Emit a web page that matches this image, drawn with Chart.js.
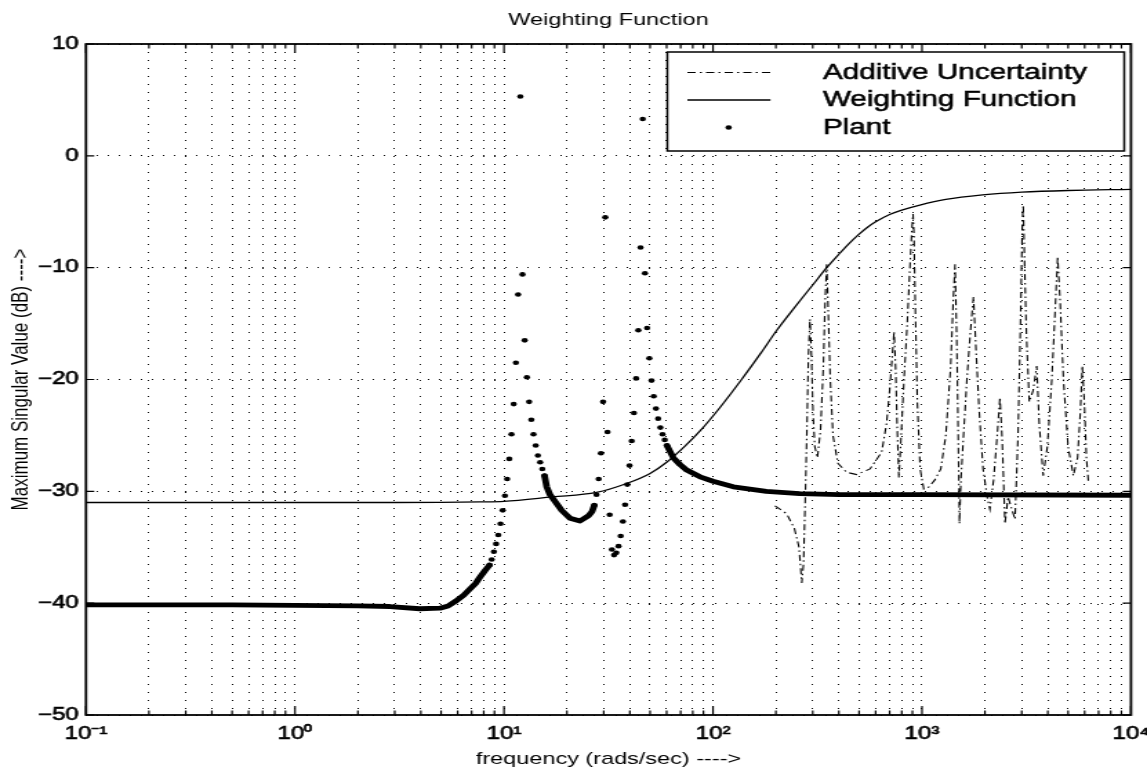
<!DOCTYPE html>
<html><head><meta charset="utf-8">
<script src="https://cdn.jsdelivr.net/npm/chart.js@4.4.1/dist/chart.umd.min.js"></script>
<style>
html,body{margin:0;padding:0;background:#fff;overflow:hidden;width:1147px;height:771px;}
#wrap{position:absolute;left:0;top:0;width:831px;height:771px;transform:scaleX(1.38026);transform-origin:0 0;}
</style></head><body>
<div id="wrap"><canvas id="chart"></canvas></div>
<script>
const titleText = 'Weighting Function';
const xTitle = 'frequency (rads/sec) ---->';
const yTitle = 'Maximum Singular Value (dB) ---->';
const legendLabels = ['Additive Uncertainty', 'Weighting Function', 'Plant'];

const xMajorTicks = [0.1, 1, 10, 100, 1000, 10000];
const xMajorLabels = ['10⁻¹', '10⁰', '10¹', '10²', '10³', '10⁴'];
const yTicks = [10, 0, -10, -20, -30, -40, -50];
const yTickLabels = ['10', '0', '−10', '−20', '−30', '−40', '−50'];

const weightFreq = [0.1, 0.3, 1, 3, 7.7, 10, 17, 27.7, 38.6, 50, 60, 73, 86.7, 108, 137, 170, 202, 240, 270, 300, 350, 400, 450, 500, 543, 600, 700, 800, 977, 1300, 1950, 3000, 5000, 10000];
const weightDb   = [-31.0, -31.0, -31.0, -31.0, -30.95, -30.9, -30.5, -30.1, -29.3, -28.4, -27.4, -26.0, -24.6, -22.5, -20.0, -17.6, -15.6, -13.8, -12.6, -11.55, -10.0, -8.8, -7.8, -7.0, -6.45, -5.9, -5.25, -4.85, -4.4, -3.9, -3.5, -3.25, -3.1, -3.0];

const plantFreq = [8.522, 8.731, 8.945, 9.165, 9.390, 9.622, 9.858, 10.10, 10.35, 10.60, 10.86, 11.13, 11.40, 11.68, 11.97,
  12.26, 12.56, 12.87, 13.19, 13.51, 13.84, 14.18, 14.53, 14.89, 15.25, 15.63,
  27.04, 27.70, 28.38, 29.08, 29.79, 30.52, 31.27, 32.04, 32.83, 33.63, 34.46, 35.31, 36.17, 37.06, 37.97, 38.90, 39.86, 40.84, 41.84, 42.87, 43.92, 45.00, 46.11,
  47.24, 48.40, 49.59, 50.80, 52.05, 53.33, 54.64, 55.98, 57.36, 58.77, 60.21];
const plantDb = [-36.6, -36.1, -35.4, -34.7, -33.9, -32.9, -31.7, -30.4, -28.9, -27.1, -24.9, -22.2, -18.5, -12.4, 5.3,
  -10.6, -16.5, -19.8, -22.0, -23.6, -24.9, -25.9, -26.8, -27.4, -28.0, -28.6,
  -31.25, -30.3, -28.9, -26.6, -22.0, -5.5, -24.7, -32.1, -35.2, -35.7, -35.5, -34.9, -34.0, -32.7, -31.2, -29.4, -27.7, -25.5, -23.0, -19.9, -15.6, -8.2, 3.3,
  -10.5, -15.4, -18.1, -20.1, -21.5, -22.6, -23.5, -24.3, -24.9, -25.4, -25.9];

const plantBandFreq = [0.1, 0.5, 1, 2, 2.85, 3.95, 4.94, 5.4, 5.9, 6.4, 6.86, 7.3, 7.66, 8.1, 8.522, null,
  15.63, 16.01, 16.6, 17.54, 18.88, 20.7, 23.1, 25.31, 26.4, 27.04, null,
  60.21, 64.57, 69.5, 74.83, 86.66, 100, 125.1, 180, 260, 400, 1000, 10000];
const plantBandDb = [-40.15, -40.15, -40.2, -40.25, -40.3, -40.5, -40.45, -40.25, -39.8, -39.3, -38.75, -38.25, -37.7, -37.1, -36.6, null,
  -28.6, -29.6, -30.3, -30.9, -31.7, -32.4, -32.65, -32.2, -31.8, -31.25, null,
  -25.9, -27.0, -27.6, -28.1, -28.7, -29.1, -29.6, -30.0, -30.2, -30.3, -30.3, -30.35];

const uncFreq = [198, 225, 245, 258, 266, 271, 276, 281, 286, 291, 296, 301, 307, 316, 327, 337, 344, 350, 356, 364, 375, 396, 436, 487, 564, 641, 676, 700, 720, 735, 748, 760, 775, 790, 820, 850, 875, 895, 906, 915, 930, 950, 980, 1020, 1080, 1150, 1230, 1300, 1370, 1410, 1439, 1465, 1490, 1511, 1535, 1580, 1640, 1700, 1763, 1810, 1880, 1960, 2050, 2113, 2200, 2290, 2360, 2420, 2495, 2580, 2680, 2786, 2880, 2960, 3020, 3052, 3090, 3160, 3260, 3400, 3539, 3640, 3800, 3980, 4180, 4330, 4457, 4580, 4750, 5000, 5300, 5550, 5720, 5848, 5980, 6120, 6250];
const uncDb = [-31.3, -32.0, -33.3, -35.0, -38.2, -36.5, -31, -25, -18, -14.6, -18, -23, -26, -27.0, -24.5, -19, -13, -9.7, -14, -20, -25, -27.5, -28.3, -28.5, -28.0, -26.5, -24, -21, -18, -15.7, -19, -24, -28.8, -26, -20, -15, -10, -6.5, -5.2, -7, -14, -22, -28, -29.8, -29.6, -29.0, -28.0, -25, -19, -13, -9.7, -16, -25, -32.9, -29, -25, -20, -16, -12.6, -17, -23, -28, -30.5, -31.6, -29, -25, -21.6, -25.5, -32.9, -30.5, -31.5, -32.5, -25, -15, -6, -4.4, -9, -16, -22, -21, -18.8, -24, -28.6, -26, -20, -14, -9.0, -13, -20, -26, -28.6, -27, -23, -18.8, -22, -27, -29.1];

const toPts = (xs, ys) => xs.map((x, i) => (x === null ? {x: null, y: null} : {x: x, y: ys[i]}));
const FONT = "'Liberation Sans', Arial, Helvetica, sans-serif";

// grid values: 1..9 multiples of each decade start
const xGridValues = [];
for (let d = 0; d < xMajorTicks.length - 1; d++) {
  for (let m = 1; m <= 9; m++) xGridValues.push(xMajorTicks[d] * m);
}
xGridValues.push(xMajorTicks[xMajorTicks.length - 1]);

const framePlugin = {
  id: 'frame',
  afterDraw(chart) {
    const {ctx, chartArea: a, scales} = chart;
    ctx.save();
    ctx.strokeStyle = '#000';
    // inner tick marks
    ctx.lineWidth = 1.2;
    ctx.beginPath();
    xGridValues.forEach(v => {
      const px = scales.x.getPixelForValue(v);
      const major = xMajorTicks.includes(v);
      const len = major ? 9 : 4.5;
      ctx.moveTo(px, a.bottom); ctx.lineTo(px, a.bottom - len);
      ctx.moveTo(px, a.top); ctx.lineTo(px, a.top + len);
    });
    yTicks.forEach(v => {
      const py = scales.y.getPixelForValue(v);
      ctx.moveTo(a.left, py); ctx.lineTo(a.left + 6, py);
      ctx.moveTo(a.right, py); ctx.lineTo(a.right - 6, py);
    });
    ctx.stroke();
    ctx.lineWidth = 1.8;
    ctx.strokeRect(a.left, a.top, a.right - a.left, a.bottom - a.top);

    // legend box
    const bw = 331, bh = 99;
    const bx = a.right - 4.9 - bw, by = a.top + 8;
    ctx.fillStyle = '#fff';
    ctx.fillRect(bx, by, bw, bh);
    ctx.lineWidth = 1.5;
    ctx.strokeRect(bx, by, bw, bh);
    const ds = chart.data.datasets;
    const order = [2, 1, 3]; // dataset index for each legend row
    ctx.font = '21.5px ' + FONT;
    ctx.fillStyle = '#000';
    ctx.textBaseline = 'alphabetic';
    ctx.textAlign = 'left';
    order.forEach((di, r) => {
      const d = ds[di];
      const baseY = by + 26.5 + r * 27.5;
      const midY = baseY - 6;
      ctx.save();
      if (!d.showLine) {
        ctx.beginPath();
        ctx.arc(bx + 44.4, midY, d.pointRadius, 0, Math.PI * 2);
        ctx.fill();
      } else {
        ctx.lineWidth = d.borderWidth;
        ctx.setLineDash(d.borderDash || []);
        ctx.beginPath();
        ctx.moveTo(bx + 14.5, midY); ctx.lineTo(bx + 74.7, midY);
        ctx.stroke();
      }
      ctx.restore();
      ctx.lineWidth = 0.5;
      ctx.strokeText(legendLabels[r], bx + 112.7, baseY);
      ctx.fillText(legendLabels[r], bx + 112.7, baseY);
    });
    ctx.restore();
  }
};

new Chart(document.getElementById('chart'), {
  type: 'scatter',
  data: {
    datasets: [
      {label: 'Plant (dense)', data: toPts(plantBandFreq, plantBandDb), showLine: true, spanGaps: false, borderColor: '#000', borderWidth: 4.8, pointRadius: 0, borderCapStyle: 'round', borderJoinStyle: 'round'},
      {label: legendLabels[1], data: toPts(weightFreq, weightDb), showLine: true, borderColor: '#000', borderWidth: 1.3, pointRadius: 0, cubicInterpolationMode: 'monotone'},
      {label: legendLabels[0], data: toPts(uncFreq, uncDb), showLine: true, borderColor: '#000', borderWidth: 1.1, pointRadius: 0, borderDash: [6, 3, 1.5, 3]},
      {label: legendLabels[2], data: toPts(plantFreq, plantDb), showLine: false, pointRadius: 2.3, pointBackgroundColor: '#000', pointBorderWidth: 0}
    ]
  },
  options: {
    responsive: true,
    maintainAspectRatio: false,
    animation: false,
    events: [],
    layout: {padding: {left: 0, right: 11.6, top: 0, bottom: 0}},
    plugins: {
      legend: {display: false},
      tooltip: {enabled: false},
      title: {display: true, text: titleText, fullSize: false, color: '#000', font: {family: FONT, size: 17, weight: 'normal'}, padding: {top: 10.5, bottom: 13.1}}
    },
    scales: {
      x: {
        type: 'logarithmic', position: 'bottom', min: 0.1, max: 10000,
        afterBuildTicks(scale) { scale.ticks = xGridValues.map(v => ({value: v, major: xMajorTicks.includes(v)})); },
        afterFit(scale) { scale.height = 56; scale.paddingLeft = 0; scale.paddingRight = 0; },
        ticks: {
          autoSkip: false, maxRotation: 0, minRotation: 0, padding: 8.5, color: '#000',
          textStrokeColor: '#000', textStrokeWidth: 0.6,
          font: {family: FONT, size: 17.5},
          callback(value) { const i = xMajorTicks.indexOf(value); return i >= 0 ? xMajorLabels[i] : ''; }
        },
        grid: {color: '#000', lineWidth: 1, drawTicks: false},
        border: {display: false, dash: [1, 7]},
        title: {display: true, text: xTitle, color: '#000', font: {family: FONT, size: 17}, padding: {top: 0, bottom: 1.2}}
      },
      y: {
        type: 'linear', min: -50, max: 10,
        afterBuildTicks(scale) { scale.ticks = yTicks.map(v => ({value: v})); },
        afterFit(scale) { scale.width = 62.3; scale.paddingTop = 0; scale.paddingBottom = 0; },
        ticks: {
          padding: 5.2, color: '#000',
          textStrokeColor: '#000', textStrokeWidth: 0.6,
          font: {family: FONT, size: 17.5},
          callback(value) { const i = yTicks.indexOf(value); return i >= 0 ? yTickLabels[i] : ''; }
        },
        grid: {color: '#000', lineWidth: 1, drawTicks: false},
        border: {display: false, dash: [1, 7]},
        title: {display: true, text: yTitle, color: '#000', font: {family: FONT, size: 17}, padding: {top: 5.4, bottom: 0}}
      }
    }
  },
  plugins: [framePlugin]
});
</script>
</body></html>
